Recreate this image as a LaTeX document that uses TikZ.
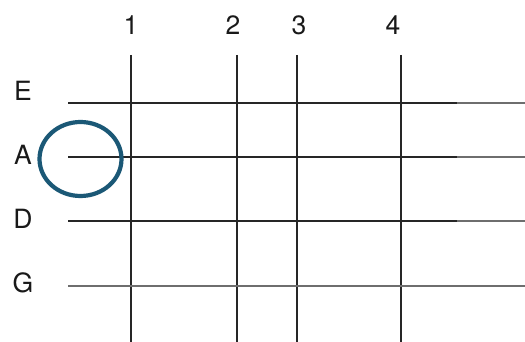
\documentclass[tikz,border=0pt]{standalone}
\usepackage{fontspec}
\setmainfont{TeX Gyre Heros}
\usetikzlibrary{shapes.geometric}
\definecolor{gridline}{HTML}{262626}
\definecolor{gridfade}{HTML}{6E6E6E}
\definecolor{ringblue}{HTML}{1B5876}
\begin{document}
\begin{tikzpicture}[x=1pt,y=-1pt,
  lbl/.style={inner sep=0pt,font=\fontsize{26.5}{30}\selectfont,text=black!90},
  gl/.style={draw=gridline,line width=1.5pt},
  glfade/.style={draw=gridfade,line width=1.5pt},
  ring/.style={draw=ringblue,line width=4.2pt}]
\useasboundingbox (0,0) rectangle (525,342);
% column labels
\node[lbl] (n1) at (131,25) {1};
\node[lbl] (n2) at (233,25) {2};
\node[lbl] (n3) at (299,25) {3};
\node[lbl] (n4) at (393,25) {4};
% row labels
\node[lbl] (rE) at (23,91) {E};
\node[lbl] (rA) at (23,155) {A};
\node[lbl] (rD) at (23,219) {D};
\node[lbl] (rG) at (23,283) {G};
% vertical lines
\foreach \n/\x in {1/131,2/237,3/297,4/401}{
  \coordinate (vt\n) at (\x,55);
  \coordinate (vb\n) at (\x,342);
  \draw[gl] (vt\n) -- (vb\n);
}
% horizontal lines
\foreach \n/\y in {E/103,A/157,D/221}{
  \coordinate (hl\n) at (68,\y);
  \coordinate (hm\n) at (457,\y);
  \coordinate (hr\n) at (525,\y);
  \draw[gl] (hl\n) -- (hm\n);
  \draw[glfade] (hm\n) -- (hr\n);
}
\coordinate (hlG) at (68,286);
\coordinate (hrG) at (525,286);
\draw[glfade] (hlG) -- (hrG);
% ring
\node[ring,ellipse,minimum width=82pt,minimum height=74pt,inner sep=0pt] (ring) at (80.5,159) {};
\end{tikzpicture}
\end{document}
